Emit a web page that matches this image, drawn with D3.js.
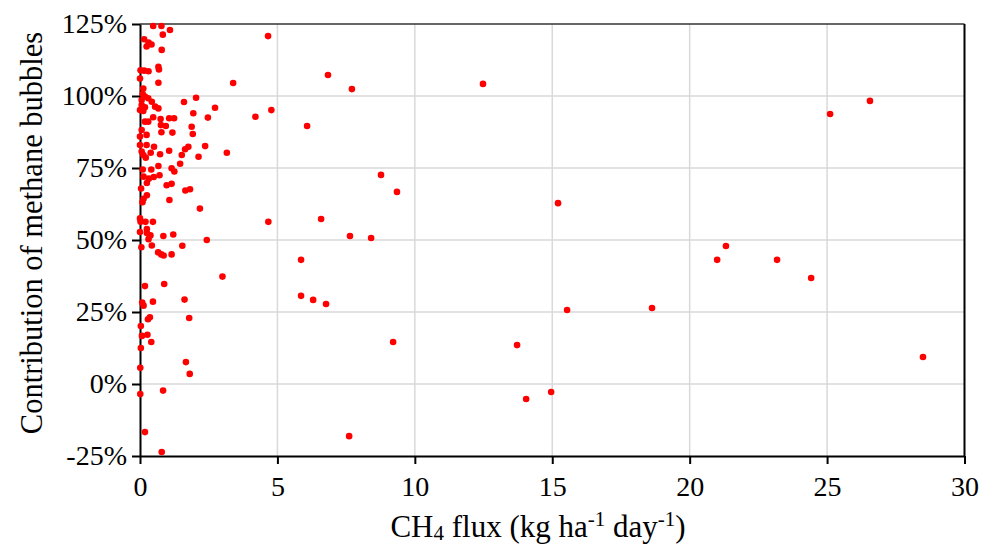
<!DOCTYPE html>
<html>
<head>
<meta charset="utf-8">
<script src="https://cdn.jsdelivr.net/npm/d3@7"></script>
<style>
  html, body { margin: 0; padding: 0; background: #fff; }
  svg { display: block; }
  text { font-family: "Liberation Serif", "Times New Roman", serif; fill: #000; }
</style>
</head>
<body>
<svg id="chart" width="982" height="547"></svg>
<script>
// CH4 flux (kg ha-1 day-1)
const flux = [
  0.48,0.78,1.09,0.83,0.15,0.31,0.42,0.24,0.79,0.67,0.69,0.02,0.15,0.31,0.00,0.67,0.12,0.10,0.18,0.06,
  0.30,0.43,0.06,0.18,0.55,0.67,1.60,2.04,2.73,1.94,2.47,0.00,0.12,0.48,0.18,0.30,0.75,1.06,1.24,1.88,
  0.06,0.76,0.94,0.78,1.18,0.00,0.24,1.92,0.00,0.24,0.51,1.06,1.76,1.64,1.52,2.37,2.13,3.16,0.06,0.12,
  0.39,0.73,0.21,0.10,0.41,0.67,1.46,1.15,1.25,0.13,0.32,0.50,0.71,0.25,0.04,0.97,1.15,1.65,1.82,0.25,
  0.13,0.09,1.07,2.18,0.00,0.02,0.20,0.47,0.00,0.25,0.25,0.38,0.31,0.85,1.21,2.43,0.05,0.43,1.54,0.66,
  0.77,0.86,1.15,3.00,0.18,0.88,0.08,0.13,0.47,1.62,0.29,0.36,1.79,0.03,0.07,0.27,0.41,0.03,1.67,0.01,
  1.81,0.01,0.84,0.18,0.79,
  3.39,4.20,4.78,4.66,4.67,
  6.84,7.71,12.48,6.08,8.77,9.35,15.21,6.59,7.64,8.41,5.86,5.86,6.30,6.77,15.54,18.63,21.00,21.32,23.18,24.42,
  25.11,26.56,28.49,13.72,9.21,14.05,14.96,7.61
];
// Contribution of methane bubbles (%)
const bubbleShare = [
  124.3,124.3,122.9,121.3,119.7,118.6,117.9,117.2,116.0,110.1,109.2,108.9,108.8,108.6,106.1,104.6,102.6,100.7,99.8,98.6,
  99.2,98.0,96.9,96.1,96.3,95.7,97.9,99.4,95.9,94.0,92.5,95.1,94.8,92.6,91.1,91.1,92.0,92.3,92.3,89.3,
  88.2,89.9,89.6,87.4,87.3,85.9,86.5,86.8,83.0,83.0,82.4,81.0,82.4,81.5,79.5,82.6,78.9,80.3,80.7,79.5,
  80.3,79.8,78.6,74.5,74.5,75.7,76.5,74.9,73.8,72.0,71.3,71.9,72.5,69.8,67.9,69.0,69.5,67.2,67.6,65.5,
  64.3,63.1,63.9,60.9,57.5,56.3,56.3,56.3,52.8,53.8,52.4,51.6,50.3,51.4,51.9,50.0,47.5,48.1,48.0,45.7,
  45.0,44.6,45.0,37.3,34.0,34.7,28.3,27.2,28.6,29.3,22.5,23.2,22.9,20.1,16.7,17.1,14.6,12.5,7.6,5.6,
  3.5,-3.5,-2.3,-16.7,-23.6,
  104.5,92.8,95.1,120.8,56.3,
  107.3,102.4,104.2,89.6,72.6,66.7,62.8,57.3,51.4,50.7,43.1,30.6,29.2,27.8,25.7,26.4,43.1,47.9,43.1,36.8,
  93.75,98.3,9.4,13.5,14.6,-5.2,-2.8,-18.1
];

const xTicks = [0, 5, 10, 15, 20, 25, 30];
const yTicks = [-25, 0, 25, 50, 75, 100, 125];
const yTitle = "Contribution of methane bubbles";

const svg = d3.select("#chart");
const mLeft = 140, mRight = 964.5, mTop = 24, mBottom = 456;
const serif = '"Liberation Serif", "Times New Roman", serif';

const x = d3.scaleLinear().domain([0, 30]).range([mLeft, mRight]);
const y = d3.scaleLinear().domain([-25, 125]).range([mBottom, mTop]);

// gridlines
const grid = svg.append("g");
grid.selectAll("line.h").data(yTicks.filter(t => t > -25 && t < 125)).join("line")
  .attr("class", "h")
  .attr("x1", mLeft).attr("x2", mRight)
  .attr("y1", d => y(d)).attr("y2", d => y(d))
  .attr("stroke", "#d9d9d9").attr("stroke-width", 1.5);
grid.selectAll("line.v").data(xTicks.filter(t => t > 0 && t < 30)).join("line")
  .attr("class", "v")
  .attr("y1", mTop).attr("y2", mBottom)
  .attr("x1", d => x(d)).attr("x2", d => x(d))
  .attr("stroke", "#d9d9d9").attr("stroke-width", 1.5);

// frame top/right
svg.append("line").attr("x1", mLeft).attr("x2", mRight).attr("y1", mTop).attr("y2", mTop)
  .attr("stroke", "#333").attr("stroke-width", 1.5);
svg.append("line").attr("x1", mRight).attr("x2", mRight).attr("y1", mTop).attr("y2", mBottom)
  .attr("stroke", "#000").attr("stroke-width", 2);

// axes
const xAxis = d3.axisBottom(x).tickValues(xTicks).tickFormat(d3.format("d")).tickSizeInner(8).tickSizeOuter(0).tickPadding(12);
const gx = svg.append("g").attr("transform", `translate(0,${mBottom})`).call(xAxis);
const yAxis = d3.axisLeft(y).tickValues(yTicks).tickFormat(d => d + "%").tickSizeInner(8).tickSizeOuter(0).tickPadding(5);
const gy = svg.append("g").attr("transform", `translate(${mLeft},0)`).call(yAxis);
[gx, gy].forEach(g => {
  g.attr("font-family", serif).attr("font-size", 28);
  g.selectAll("path.domain").attr("stroke", "#000").attr("stroke-width", 2);
  g.selectAll(".tick line").attr("stroke", "#000").attr("stroke-width", 2);
  g.selectAll(".tick text").style("font-family", serif).style("font-size", "28px").attr("fill", "#000");
});

// points
svg.append("g").selectAll("circle").data(flux.map((f, i) => [f, bubbleShare[i]])).join("circle")
  .attr("cx", d => x(d[0])).attr("cy", d => y(d[1])).attr("r", 3.3)
  .attr("fill", "#ff0000");

// x title with sub/superscripts
const xt = svg.append("text").attr("x", 538).attr("y", 537).attr("text-anchor", "middle")
  .style("font-family", serif).style("font-size", "31px");
xt.append("tspan").text("CH");
xt.append("tspan").text("4").attr("dy", 3).style("font-size", "21px");
xt.append("tspan").text(" flux (kg ha").attr("dy", -3);
xt.append("tspan").text("-1").attr("dy", -11).style("font-size", "21px");
xt.append("tspan").text(" day").attr("dy", 11);
xt.append("tspan").text("-1").attr("dy", -11).style("font-size", "21px");
xt.append("tspan").text(")").attr("dy", 11);

// y title
svg.append("text").attr("transform", "translate(42,233) rotate(-90)").attr("text-anchor", "middle")
  .style("font-family", serif).style("font-size", "30.5px").text(yTitle);
</script>
</body>
</html>
